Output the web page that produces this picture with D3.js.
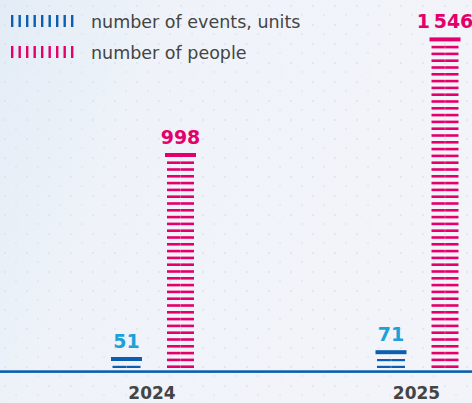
<!DOCTYPE html>
<html>
<head>
<meta charset="utf-8">
<script src="https://cdn.jsdelivr.net/npm/d3@7"></script>
<style>
  html, body { margin: 0; padding: 0; background: #eef2f8; }
  svg { display: block; }
</style>
</head>
<body>
<div id="chart"></div>
<script>
'use strict';

var years = ['2024', '2025'];
var seriesNames = ['number of events, units', 'number of people'];
var events = [51, 71];
var people = [998, 1546];

var W = 472, H = 403;
var base = 368;          // bottom of the lowest stripe
var P = 6.8;             // stripe period
var colors = { events: '#0b5fae', people: '#e4006a' };
var labelColors = { events: '#1ea0da', people: '#e4006a' };

var svg = d3.select('#chart').append('svg')
  .attr('width', W).attr('height', H);

// background
var defs = svg.append('defs');
var grad = defs.append('linearGradient').attr('id', 'bg')
  .attr('x1', 0).attr('y1', 0).attr('x2', 1).attr('y2', 0.3);
grad.append('stop').attr('offset', 0).attr('stop-color', '#e3ecf6');
grad.append('stop').attr('offset', 0.35).attr('stop-color', '#eff3f9');
grad.append('stop').attr('offset', 1).attr('stop-color', '#f2f4f9');
var pat = defs.append('pattern').attr('id', 'dots')
  .attr('width', 22).attr('height', 19).attr('patternUnits', 'userSpaceOnUse');
pat.append('rect').attr('x', 4).attr('y', 5).attr('width', 2).attr('height', 2)
  .attr('fill', '#d7dfea').attr('opacity', 0.6);
pat.append('rect').attr('x', 15).attr('y', 14).attr('width', 2).attr('height', 2)
  .attr('fill', '#dbe2ec').attr('opacity', 0.5);
svg.append('rect').attr('width', W).attr('height', H).attr('fill', 'url(#bg)');
svg.append('rect').attr('width', W).attr('height', H).attr('fill', 'url(#dots)');

// scales
var x0 = d3.scalePoint().domain(years).range([153.5, 418]);
var x1 = d3.scalePoint().domain(['events', 'people']).range([-27, 27]);
var y = d3.scaleLinear().domain([0, 1600]).range([base, base - 340]);

function fmt(v) {
  return v >= 1000 ? d3.format(',')(v).replace(',', '\u2009') : String(v);
}

var bars = [];
years.forEach(function (yr, i) {
  bars.push({ year: yr, key: 'events', value: events[i] });
  bars.push({ year: yr, key: 'people', value: people[i] });
});

var g = svg.selectAll('g.bar').data(bars).enter().append('g')
  .attr('class', 'bar')
  .attr('transform', function (d) { return 'translate(' + (x0(d.year) + x1(d.key)) + ',0)'; });

g.each(function (d) {
  var el = d3.select(this);
  var rows = Math.ceil((y(0) - y(d.value)) / P);
  var th = d.key === 'people' ? 2.6 : 2.2;
  var sw = d.key === 'people' ? 27 : 28;
  var stripes = d3.range(rows - 1);
  el.selectAll('rect.stripe').data(stripes).enter().append('rect')
    .attr('class', 'stripe')
    .attr('x', -sw / 2)
    .attr('y', function (i) { return base - th - i * P; })
    .attr('width', sw)
    .attr('height', th)
    .attr('fill', colors[d.key]);
  var topStripe = base - 2.5 - (rows - 2) * P;
  var capTop = topStripe - 8.5;
  el.append('rect')
    .attr('x', -15.5).attr('y', capTop)
    .attr('width', 31).attr('height', 4)
    .attr('fill', colors[d.key]);
  // faint split down the middle of the stripes
  el.append('rect')
    .attr('x', -0.4).attr('y', topStripe)
    .attr('width', 0.8).attr('height', base - topStripe)
    .attr('fill', '#fff').attr('opacity', 0.35);
  el.append('text')
    .attr('x', 0).attr('y', capTop - 9)
    .attr('text-anchor', 'middle')
    .attr('font-family', 'DejaVu Sans')
    .attr('font-weight', 'bold')
    .attr('font-size', 19)
    .attr('fill', labelColors[d.key])
    .text(fmt(d.value));
});

// axis line
svg.append('rect')
  .attr('x', 0).attr('y', 370.3).attr('width', W).attr('height', 2.6)
  .attr('fill', '#0b5fae');

// year labels
svg.selectAll('text.year').data(years).enter().append('text')
  .attr('class', 'year')
  .attr('x', function (d) { return x0(d) - 1.5; })
  .attr('y', 399)
  .attr('text-anchor', 'middle')
  .attr('font-family', 'DejaVu Sans')
  .attr('font-weight', 'bold')
  .attr('font-size', 17)
  .attr('fill', '#444')
  .text(function (d) { return d; });

// legend
var leg = svg.selectAll('g.legend').data(['events', 'people']).enter().append('g')
  .attr('class', 'legend')
  .attr('transform', function (d, i) { return 'translate(11,' + (15 + i * 31) + ')'; });
leg.each(function (k) {
  d3.select(this).selectAll('rect').data(d3.range(9)).enter().append('rect')
    .attr('x', function (i) { return i * 7.5; })
    .attr('y', 0)
    .attr('width', 2.4)
    .attr('height', 12)
    .attr('fill', colors[k]);
});
leg.append('text')
  .attr('x', 80).attr('y', 12.5)
  .attr('font-family', 'DejaVu Sans')
  .attr('font-size', 17.5)
  .attr('fill', '#444')
  .text(function (d, i) { return seriesNames[i]; });
</script>
</body>
</html>
